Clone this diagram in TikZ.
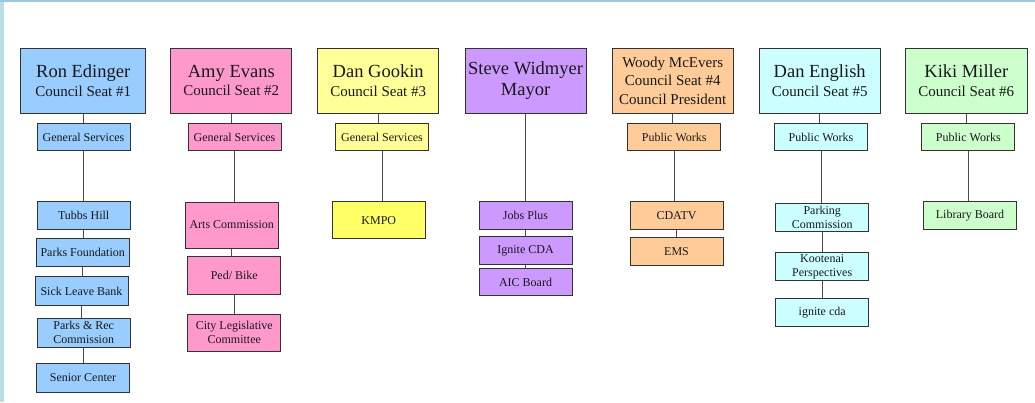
\documentclass[tikz,border=0pt]{standalone}
\usepackage{fontspec}
\setmainfont{Liberation Serif}

\definecolor{ronblue}{HTML}{99CCFF}
\definecolor{amypink}{HTML}{FF99CC}
\definecolor{danyellow}{HTML}{FFFF99}
\definecolor{kmpoyellow}{HTML}{FFFF66}
\definecolor{stevepurple}{HTML}{CC99FF}
\definecolor{woodyorange}{HTML}{FFCC99}
\definecolor{dancyan}{HTML}{CCFFFF}
\definecolor{kikigreen}{HTML}{CCFFCC}
\definecolor{edgeblue}{HTML}{B9DEE9}
\definecolor{edgetop}{HTML}{97CADB}

\newcommand{\namesize}{\fontsize{18.5}{20.7}\selectfont}
\newcommand{\seatsize}{\fontsize{15}{18.3}\selectfont}
\newcommand{\subsize}{\fontsize{12}{14}\selectfont}

\begin{document}
\begin{tikzpicture}[x=1pt,y=-1pt,
  head/.style={draw=black!80,line width=1pt,minimum width=121pt,minimum height=65pt,
    align=center,inner sep=0pt,font=\seatsize,text=black!90},
  sub/.style={draw=black!80,line width=1pt,minimum width=93pt,minimum height=27.5pt,
    align=center,inner sep=0pt,font=\subsize,text=black!90},
  link/.style={black!70,line width=1pt}]
  \fill[white] (0,0) rectangle (1035,402);
  \useasboundingbox (0,0) rectangle (1035,402);
  \fill[edgeblue] (0,0) rectangle (4,402);
  \fill[edgetop] (0,0) rectangle (1035,2);

  % council row
  \node[head,fill=ronblue,minimum width=125pt] (ron) at (83.2,80.7) {{\namesize Ron Edinger}\\Council Seat \#1};
  \node[head,fill=amypink] (amy) at (231.3,80.7) {{\namesize Amy Evans}\\Council Seat \#2};
  \node[head,fill=danyellow] (gookin) at (378.2,80.7) {{\namesize Dan Gookin}\\Council Seat \#3};
  \node[head,fill=stevepurple,font=\namesize] (steve) at (525.5,80.7) {Steve Widmyer\\Mayor};
  \node[head,fill=woodyorange] (woody) at (672.7,80.7) {Woody McEvers\\Council Seat \#4\\Council President};
  \node[head,fill=dancyan] (english) at (819.7,80.7) {{\namesize Dan English}\\Council Seat \#5};
  \node[head,fill=kikigreen,minimum width=122pt] (kiki) at (966.3,80.7) {{\namesize Kiki Miller}\\Council Seat \#6};

  % first assignments
  \node[sub,fill=ronblue] (ronGS) at (83.5,137) {General Services};
  \node[sub,fill=amypink] (amyGS) at (234.5,137) {General Services};
  \node[sub,fill=danyellow] (gookinGS) at (382,137) {General Services};
  \node[sub,fill=woodyorange] (woodyPW) at (674.2,137) {Public Works};
  \node[sub,fill=dancyan] (englishPW) at (821,137) {Public Works};
  \node[sub,fill=kikigreen] (kikiPW) at (968.3,137) {Public Works};

  % Edinger
  \node[sub,fill=ronblue] (tubbs) at (83.7,215.7) {Tubbs Hill};
  \node[sub,fill=ronblue] (parksfdn) at (82.7,252.5) {Parks Foundation};
  \node[sub,fill=ronblue,minimum height=28.6pt] (sickleave) at (81.5,291) {Sick Leave Bank};
  \node[sub,fill=ronblue,minimum height=29pt] (parksrec) at (83.7,332.8) {Parks \& Rec\\Commission};
  \node[sub,fill=ronblue,minimum height=29pt] (senior) at (83,377.8) {Senior Center};

  % Evans
  \node[sub,fill=amypink,minimum height=46pt] (arts) at (231.7,225) {Arts Commission};
  \node[sub,fill=amypink,minimum height=38pt] (pedbike) at (234.3,275) {Ped/ Bike};
  \node[sub,fill=amypink,minimum height=37pt] (citylegis) at (234.3,332.8) {City Legislative\\Committee};

  % Gookin
  \node[sub,fill=kmpoyellow,minimum height=36.7pt] (kmpo) at (378.8,220.3) {KMPO};

  % Widmyer
  \node[sub,fill=stevepurple] (jobsplus) at (525.5,215.7) {Jobs Plus};
  \node[sub,fill=stevepurple] (ignite) at (525.5,250.5) {Ignite CDA};
  \node[sub,fill=stevepurple] (aic) at (525.5,282.2) {AIC Board};

  % McEvers
  \node[sub,fill=woodyorange] (cdatv) at (676.5,215.7) {CDATV};
  \node[sub,fill=woodyorange,minimum height=28pt] (ems) at (676.5,251.3) {EMS};

  % English
  \node[sub,fill=dancyan,minimum height=28pt] (parking) at (822.2,217.7) {Parking\\Commission};
  \node[sub,fill=dancyan,minimum height=28pt] (kootenai) at (822.2,266.7) {Kootenai\\Perspectives};
  \node[sub,fill=dancyan,minimum height=28pt] (ignitecda) at (822.2,312.7) {ignite cda};

  % Miller
  \node[sub,fill=kikigreen] (library) at (970,215.7) {Library Board};

  \foreach \a/\b in {ron/ronGS,ronGS/tubbs,tubbs/parksfdn,parksfdn/sickleave,sickleave/parksrec,parksrec/senior,
      amy/amyGS,amyGS/arts,arts/pedbike,pedbike/citylegis,
      gookin/gookinGS,gookinGS/kmpo,
      steve/jobsplus,jobsplus/ignite,ignite/aic,
      woody/woodyPW,woodyPW/cdatv,cdatv/ems,
      english/englishPW,englishPW/parking,parking/kootenai,kootenai/ignitecda,
      kiki/kikiPW,kikiPW/library}
    \draw[link] (\a.south) -- (\a.south |- \b.north);
\end{tikzpicture}
\end{document}
